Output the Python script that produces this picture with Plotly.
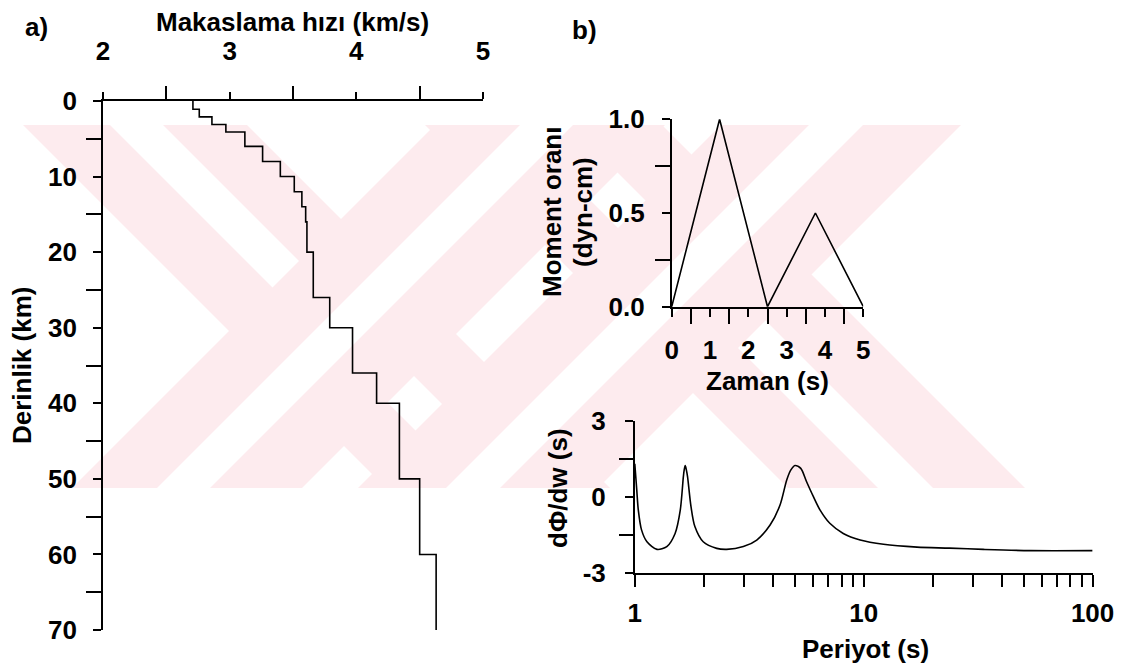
import plotly.graph_objects as go

W, H = 1128, 668

# ---------------- data ----------------
# a) shear-wave velocity model
layer_top_km = [0, 1.1, 2.1, 3.1, 4.1, 6, 8, 10, 12, 14, 16, 20, 26, 30, 36, 40, 50, 60]
layer_vs_kms = [2.71, 2.76, 2.86, 2.97, 3.12, 3.26, 3.40, 3.51, 3.57, 3.60, 3.61, 3.66,
                3.79, 3.97, 4.16, 4.34, 4.50, 4.63]
model_bottom_km = 70

# b) source time function (moment rate)
stf_time_s = [0, 1.25, 2.5, 3.75, 5]
stf_moment_rate = [0, 1.0, 0, 0.5, 0]

# b) group-delay curve dPhi/dw vs period
period_s = [1.00, 1.02, 1.036, 1.07, 1.13, 1.25, 1.38, 1.50, 1.58, 1.63, 1.645, 1.661,
            1.678, 1.70, 1.76, 1.83, 1.99, 2.28, 2.52, 2.98, 3.41, 3.90, 4.31, 4.61,
            4.80, 5.01, 5.31, 5.63, 6.03, 6.45, 7.11, 8.14, 9.65, 12.2, 17.1, 23.7,
            33.3, 53.3, 100]
dphi_dw_s = [1.30, 0.26, -0.53, -1.31, -1.78, -2.08, -1.97, -1.45, -0.53, 0.79, 1.08, 1.23,
             1.08, 0.79, -0.39, -1.18, -1.78, -2.04, -2.08, -1.97, -1.71, -1.12, -0.33, 0.66,
             1.05, 1.23, 1.12, 0.59, 0.0, -0.53, -1.05, -1.45, -1.71, -1.88, -1.99, -2.03,
             -2.08, -2.13, -2.13]

# ---------------- helpers ----------------
def fx(p):
    return p / W


def fy(p):
    return 1 - p / H


FONT = "Liberation Sans, Arial, Helvetica, sans-serif"
TICK_FONT = dict(family=FONT, size=26, color="black", weight="bold")
TITLE_SIZE = 26
LW = 1.6

fig = go.Figure()

# ---------------- watermark (light pink stripes) ----------------
WM_TOP, WM_BOT = 125, 488
PINK = "#fdebee"
# "\" bands given by c = x - y : (band start, white start, white end, band end)
wm_back_bands = [(-102, -15, 38, 122), (300, 390, 445, 537)]
# "/" bands given by s = x + y
wm_slash_bands = [(560, 645, 698, 790), (846, 934, 988, 1086)]


def poly(points, color):
    d = "M " + " L ".join(f"{fx(x):.5f},{fy(y):.5f}" for x, y in points) + " Z"
    return dict(type="path", path=d, xref="paper", yref="paper", fillcolor=color,
                line=dict(width=0), layer="below")


shapes = []
for c1, w1, w2, c2 in wm_back_bands:
    shapes.append(poly([(c1 + WM_TOP, WM_TOP), (c2 + WM_TOP, WM_TOP), (c2 + WM_BOT, WM_BOT), (c1 + WM_BOT, WM_BOT)], PINK))
    shapes.append(poly([(w1 + WM_TOP, WM_TOP), (w2 + WM_TOP, WM_TOP), (w2 + WM_BOT, WM_BOT), (w1 + WM_BOT, WM_BOT)], "white"))
for s1, w1, w2, s2 in wm_slash_bands:
    shapes.append(poly([(s1 - WM_TOP, WM_TOP), (s2 - WM_TOP, WM_TOP), (s2 - WM_BOT, WM_BOT), (s1 - WM_BOT, WM_BOT)], PINK))
    shapes.append(poly([(w1 - WM_TOP, WM_TOP), (w2 - WM_TOP, WM_TOP), (w2 - WM_BOT, WM_BOT), (w1 - WM_BOT, WM_BOT)], "white"))

# ---------------- traces ----------------
fig.add_trace(go.Scatter(x=layer_vs_kms + [layer_vs_kms[-1]],
                         y=layer_top_km + [model_bottom_km],
                         mode="lines", line=dict(color="black", width=LW, shape="vh"),
                         xaxis="x", yaxis="y", showlegend=False))
fig.add_trace(go.Scatter(x=stf_time_s, y=stf_moment_rate, mode="lines",
                         line=dict(color="black", width=LW),
                         xaxis="x2", yaxis="y2", showlegend=False))
fig.add_trace(go.Scatter(x=period_s, y=dphi_dw_s, mode="lines",
                         line=dict(color="black", width=LW, shape="spline", smoothing=0.8),
                         xaxis="x3", yaxis="y3", showlegend=False))


def axis_common(**kw):
    d = dict(showline=True, linecolor="black", linewidth=LW, showgrid=False, zeroline=False,
             ticks="outside", tickcolor="black", tickwidth=LW, tickfont=TICK_FONT,
             automargin=False, fixedrange=True)
    d.update(kw)
    return d


def minor(vals=None, length=15, **kw):
    d = dict(ticklen=length, ticks="outside", tickcolor="black", tickwidth=LW, showgrid=False)
    if vals is not None:
        d["tickvals"] = vals
    d.update(kw)
    return d


fig.update_layout(
    width=W, height=H,
    margin=dict(l=0, r=0, t=0, b=0),
    paper_bgcolor="white", plot_bgcolor="rgba(0,0,0,0)",
    showlegend=False,
    shapes=shapes,
    # panel a
    xaxis=axis_common(domain=[fx(103), fx(483)], range=[2, 5], side="top", anchor="y",
                      tickvals=[2, 3, 4, 5], ticklen=7, ticklabelstandoff=22,
                      minor=minor([2.5, 3.5, 4.5], 13)),
    yaxis=axis_common(domain=[fy(630), fy(101)], range=[70, 0], anchor="x",
                      tickvals=[0, 10, 20, 30, 40, 50, 60, 70], ticklen=8, ticklabelstandoff=11,
                      minor=minor([5, 15, 25, 35, 45, 55, 65], 15)),
    # panel b top
    xaxis2=axis_common(domain=[fx(671.7), fx(863.3)], range=[0, 5], anchor="y2",
                       tickvals=[0, 1, 2, 3, 4, 5], ticklen=8, ticklabelstandoff=11,
                       minor=minor([0.5, 1.5, 2.5, 3.5, 4.5], 15)),
    yaxis2=axis_common(domain=[fy(306.7), fy(119.3)], range=[0, 1], anchor="x2",
                       tickvals=[0, 0.5, 1.0], ticktext=["0.0", "0.5", "1.0"], ticklen=8,
                       ticklabelstandoff=12,
                       minor=minor([0.25, 0.75], 15)),
    # panel b bottom
    xaxis3=axis_common(type="log", domain=[fx(634.8), fx(1092.6)], range=[0, 2], anchor="y3",
                       tickvals=[1, 10, 100], ticktext=["1", "10", "100"], ticklen=7,
                       ticklabelstandoff=9,
                       minor=minor(None, 12, dtick="D1")),
    yaxis3=axis_common(domain=[fy(572.7), fy(420.7)], range=[-3, 3], anchor="x3",
                       tickvals=[-3, 0, 3], ticktext=["-3", "0", "3"], ticklen=8,
                       ticklabelstandoff=14,
                       minor=minor([-1.5, 1.5], 14)),
)


def label(text, x, y, size=TITLE_SIZE, angle=0):
    fig.add_annotation(text=text, x=fx(x), y=fy(y), xref="paper", yref="paper",
                       showarrow=False, textangle=angle, xanchor="center", yanchor="middle",
                       font=dict(family=FONT, size=size, color="black", weight="bold"))


label("a)", 36, 27)
label("b)", 584, 30)
label("Makaslama hızı (km/s)", 293, 22)
label("Derinlik (km)", 22, 365, angle=-90)
label("Moment oranı", 552, 212, angle=-90)
label("(dyn-cm)", 583, 212, angle=-90)
label("Zaman (s)", 767, 381)
label("dΦ/dw (s)", 558, 488, angle=-90)
label("Periyot (s)", 865, 649)

fig.write_html("out.html")
